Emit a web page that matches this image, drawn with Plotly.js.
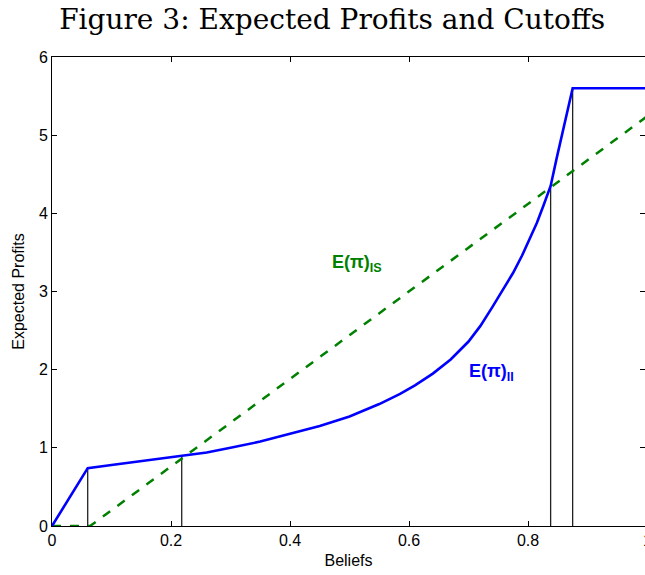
<!DOCTYPE html>
<html>
<head>
<meta charset="utf-8">
<script src="https://cdn.plot.ly/plotly-3.0.1.min.js"></script>
<style>html,body{margin:0;padding:0;background:#fff;}#chart{width:645px;height:575px;}</style>
</head>
<body>
<div id="chart"></div>
<script>
// E(pi)_II : blue, solid
const beliefsII = [0, 0.06, 0.10, 0.15, 0.218, 0.26, 0.30, 0.35, 0.40, 0.45, 0.50, 0.55, 0.585, 0.61, 0.64, 0.67, 0.70, 0.72, 0.74, 0.76, 0.775, 0.79, 0.80, 0.815, 0.826, 0.838, 0.848, 0.859, 0.868, 0.875, 1.0];
const profitsII = [0, 0.74, 0.78, 0.83, 0.89, 0.94, 1.00, 1.08, 1.18, 1.28, 1.40, 1.56, 1.69, 1.80, 1.95, 2.13, 2.36, 2.56, 2.80, 3.05, 3.24, 3.46, 3.62, 3.88, 4.10, 4.35, 4.70, 5.08, 5.36, 5.60, 5.60];
// E(pi)_IS : green, dashed
const beliefsIS = [0, 0.064, 1.0];
const profitsIS = [0, 0, 5.24];
// cutoffs (vertical black lines)
const cutoffs = [0.06, 0.218, 0.838, 0.875];
const cutoffHeights = [0.74, 0.89, 4.35, 5.60];
const xTicks = [0, 0.2, 0.4, 0.6, 0.8, 1];
const yTicks = [0, 1, 2, 3, 4, 5, 6];

const vx = [], vy = [];
cutoffs.forEach((c, i) => { vx.push(c, c, null); vy.push(0, cutoffHeights[i], null); });

const traces = [
  {x: vx, y: vy, mode: 'lines', line: {color: '#222', width: 1.3}, hoverinfo: 'skip', showlegend: false},
  {x: beliefsIS, y: profitsIS, mode: 'lines', line: {color: '#008000', width: 2.5, dash: 'dash'}, showlegend: false},
  {x: beliefsII, y: profitsII, mode: 'lines', line: {color: '#0000ff', width: 2.6}, showlegend: false}
];

const tickFont = {family: 'Liberation Sans, Arial, sans-serif', size: 16, color: '#000'};
const layout = {
  width: 645, height: 575,
  margin: {l: 52, r: 0, t: 57, b: 49},
  paper_bgcolor: '#fff', plot_bgcolor: '#fff',
  showlegend: false,
  title: {text: 'Figure 3: Expected Profits and Cutoffs', font: {family: 'DejaVu Serif, serif', size: 28, color: '#000'},
          xref: 'container', x: 0.515, xanchor: 'center', yref: 'container', y: 0.966, yanchor: 'middle'},
  xaxis: {range: [0, 0.9966], tickvals: xTicks, ticktext: xTicks.map(String), ticks: 'inside', ticklen: 5, tickcolor: '#000',
          showline: true, linecolor: '#000', linewidth: 1, mirror: 'ticks', showgrid: false, zeroline: false,
          tickfont: tickFont, title: {text: 'Beliefs', font: tickFont, standoff: 6}},
  yaxis: {range: [0, 6], tickvals: yTicks, ticks: 'inside', ticklen: 5, tickcolor: '#000',
          showline: true, linecolor: '#000', linewidth: 1, mirror: 'ticks', showgrid: false, zeroline: false,
          tickfont: tickFont, title: {text: 'Expected Profits', font: tickFont, standoff: 10}},
  annotations: [
    {text: '<b>E(π)<sub>IS</sub></b>', x: 0.467, y: 3.36, xref: 'x', yref: 'y', xanchor: 'left', yanchor: 'middle', showarrow: false,
     font: {family: 'Liberation Sans, Arial, sans-serif', size: 18, color: '#008000'}},
    {text: '<b>E(π)<sub>II</sub></b>', x: 0.697, y: 1.96, xref: 'x', yref: 'y', xanchor: 'left', yanchor: 'middle', showarrow: false,
     font: {family: 'Liberation Sans, Arial, sans-serif', size: 18, color: '#0000ff'}},
    {text: '1', x: 1.0034, y: 0, xref: 'paper', yref: 'paper', xanchor: 'center', yanchor: 'top', yshift: -4, showarrow: false,
     font: tickFont}
  ]
};
Plotly.newPlot('chart', traces, layout, {displayModeBar: false, staticPlot: true});
</script>
</body>
</html>
